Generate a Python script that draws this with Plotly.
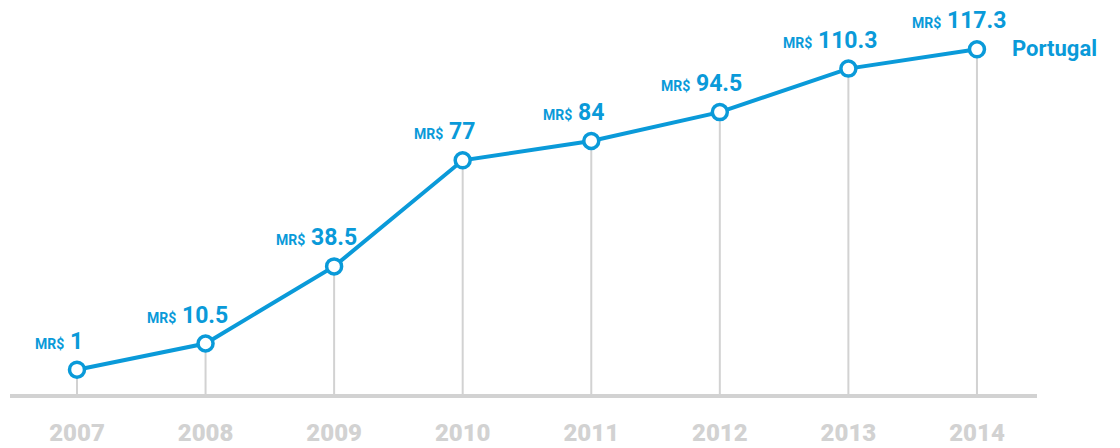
import plotly.graph_objects as go

# Annual values (MR$) for Portugal
years = [2007, 2008, 2009, 2010, 2011, 2012, 2013, 2014]
values = [1, 10.5, 38.5, 77, 84, 94.5, 110.3, 117.3]
value_labels = ["1", "10.5", "38.5", "77", "84", "94.5", "110.3", "117.3"]
series_name = "Portugal"
currency = "MR$"

BLUE = "#0a9ad9"
GREY = "#d2d2d2"
FONT = "Roboto, Arial, sans-serif"

y_min, y_max = -7.83, 135.2

fig = go.Figure()

# grey drop lines from each point to the baseline
drop_x, drop_y = [], []
for yr, v in zip(years, values):
    drop_x += [yr, yr, None]
    drop_y += [y_min, v, None]
fig.add_trace(go.Scatter(
    x=drop_x, y=drop_y, mode="lines",
    line=dict(color=GREY, width=2),
    hoverinfo="skip", showlegend=False, cliponaxis=False,
))

# main series
fig.add_trace(go.Scatter(
    x=years, y=values, mode="lines+markers", name=series_name,
    line=dict(color=BLUE, width=4),
    marker=dict(size=15, color="white", line=dict(color=BLUE, width=3.5)),
    showlegend=False, cliponaxis=False,
))

annotations = []
for yr, v, lab in zip(years, values, value_labels):
    annotations.append(dict(
        x=yr, y=v, xref="x", yref="y",
        text=f"<span style='font-size:14px'>{currency}</span> {lab}",
        showarrow=False, xanchor="center", yanchor="bottom",
        xshift=-18, yshift=13,
        font=dict(family=FONT, size=23, color=BLUE, weight="bold"),
    ))
annotations.append(dict(
    x=years[-1], y=values[-1], xref="x", yref="y",
    text=series_name, showarrow=False,
    xanchor="left", yanchor="middle", xshift=33, yshift=1,
    font=dict(family=FONT, size=22, color=BLUE, weight="bold"),
))

fig.update_layout(
    width=1120, height=448,
    margin=dict(l=10, r=83, t=0, b=54, autoexpand=False),
    paper_bgcolor="white", plot_bgcolor="white",
    annotations=annotations,
    xaxis=dict(
        range=[2006.479, 2014.467],
        tickvals=years, ticktext=[str(y) for y in years],
        showgrid=False, zeroline=False,
        showline=True, linecolor=GREY, linewidth=4,
        ticks="", ticklabelstandoff=14, automargin=False,
        tickfont=dict(family=FONT, size=24, color=GREY, weight=900),
        fixedrange=True,
    ),
    yaxis=dict(
        range=[y_min, y_max],
        visible=False, showgrid=False, zeroline=False,
        fixedrange=True, automargin=False,
    ),
)

fig.write_html("out.html")
